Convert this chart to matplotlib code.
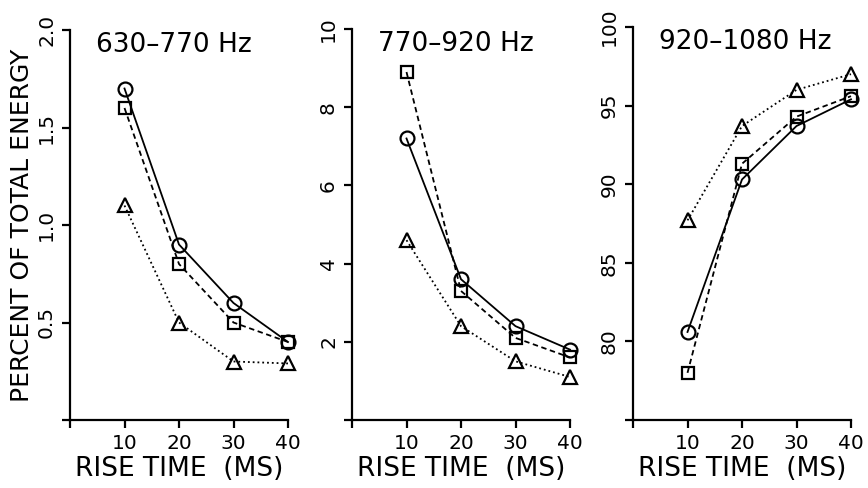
import matplotlib.pyplot as plt

# rise times (ms)
rise_time = [10, 20, 30, 40]

bands = ["630\u2013770 Hz", "770\u2013920 Hz", "920\u20131080 Hz"]

# percent of total energy per band, one list per condition
circle_vals = [
    [1.7, 0.9, 0.6, 0.4],
    [7.2, 3.6, 2.4, 1.8],
    [80.6, 90.3, 93.7, 95.4],
]
square_vals = [
    [1.6, 0.8, 0.5, 0.4],
    [8.9, 3.3, 2.1, 1.6],
    [78.0, 91.3, 94.3, 95.6],
]
triangle_vals = [
    [1.1, 0.5, 0.3, 0.29],
    [4.6, 2.4, 1.5, 1.1],
    [87.7, 93.7, 96.0, 97.0],
]

y_limits = [(0, 2.0), (0, 10), (75, 100)]
y_ticks = [[0, 0.5, 1.0, 1.5, 2.0], [0, 2, 4, 6, 8, 10], [75, 80, 85, 90, 95, 100]]
y_ticklabels = [["", "0.5", "1.0", "1.5", "2.0"],
                ["", "2", "4", "6", "8", "10"],
                ["", "80", "85", "90", "95", "100"]]
x_ticks = [0, 10, 20, 30, 40]
x_ticklabels = ["", "10", "20", "30", "40"]

plt.rcParams['font.family'] = ['DejaVu Sans']

fig = plt.figure(figsize=(8.68, 4.88), dpi=100)
lefts = [70 / 868, 352 / 868, 633 / 868]
tops = [30, 29, 27]

for i in range(3):
    bottom = 1 - 420 / 488
    height = (420 - tops[i]) / 488
    ax = fig.add_axes([lefts[i], bottom, 218 / 868, height])

    ax.plot(rise_time, circle_vals[i], '-', color='black', lw=1.3,
            marker='o', ms=10, mfc='none', mec='black', mew=1.6)
    ax.plot(rise_time, square_vals[i], '--', color='black', lw=1.3, dashes=(3, 2),
            marker='s', ms=9, mfc='none', mec='black', mew=1.6)
    ax.plot(rise_time, triangle_vals[i], ':', color='black', lw=1.3,
            marker='^', ms=9.5, mfc='none', mec='black', mew=1.6)

    ax.set_xlim(0, 40)
    ax.set_ylim(*y_limits[i])
    ax.set_xticks(x_ticks)
    ax.set_xticklabels(x_ticklabels, fontsize=14.5)
    ax.set_yticks(y_ticks[i])
    ax.set_yticklabels(y_ticklabels[i], fontsize=14.5, rotation=90, va='center')

    for side in ['top', 'right']:
        ax.spines[side].set_visible(False)
    for side in ['left', 'bottom']:
        ax.spines[side].set_linewidth(1.6)
    ax.tick_params(direction='out', length=6, width=1.6, pad=4)

    ax.text(0.12, 0.962, bands[i], transform=ax.transAxes, fontsize=19,
            ha='left', va='center')
    ax.set_xlabel("RISE TIME  (MS)", fontsize=19, labelpad=2)
    for line in ax.lines:
        line.set_clip_on(False)

    if i == 0:
        ax.set_ylabel("PERCENT OF TOTAL ENERGY", fontsize=18, labelpad=2)

fig.savefig("out.png", dpi=100)
